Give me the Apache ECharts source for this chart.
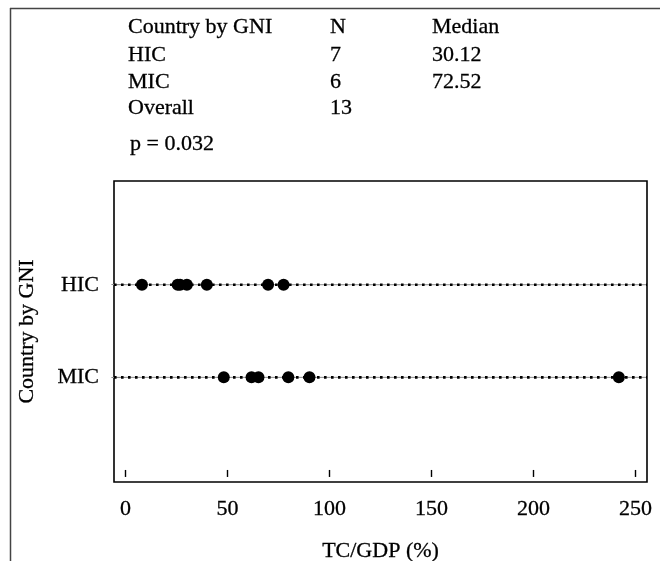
<!DOCTYPE html>
<html><head><meta charset="utf-8">
<script src="https://cdn.jsdelivr.net/npm/echarts@6/dist/echarts.min.js"></script>
<style>html,body{margin:0;padding:0;background:#fff}#c{width:660px;height:561px}</style>
</head><body><div id="c"></div>
<script>
// ---- data ----
const categories = ['MIC', 'HIC']; // plotted at y = 1, 2
const hicValues = [8.1, 25.6, 26.8, 30.12, 39.9, 69.9, 77.5];
const micValues = [48.2, 61.8, 65.2, 79.84, 90.2, 241.8];
const xTicks = [0, 50, 100, 150, 200, 250];
const yTicks = [1, 2];
const tableHeader = ['Country by GNI', 'N', 'Median'];
const tableRows = [['HIC', '7', '30.12'], ['MIC', '6', '72.52'], ['Overall', '13', '']];
const pText = 'p = 0.032';

const XMIN = -5.6, XMAX = 255.6;
const FONT = '"Liberation Serif", "DejaVu Serif", serif';
const FS = 22;

const chart = echarts.init(document.getElementById('c'), null, {renderer: 'canvas'});

const series = [];
const groups = [[2, hicValues], [1, micValues]];
groups.forEach(([y, vals]) => {
  series.push({
    type: 'line', silent: true, symbol: 'none', z: 1,
    data: [[XMIN, y], [XMAX, y]],
    lineStyle: {color: '#8a8a8a', width: 1}
  });
  series.push({
    type: 'line', silent: true, symbol: 'none', z: 2,
    data: [[XMIN, y], [XMAX, y]],
    lineStyle: {color: '#000', width: 2.6, type: [2.6, 4.4], cap: 'butt'}
  });
  series.push({
    type: 'scatter', z: 3, symbol: 'circle', symbolSize: 12,
    data: vals.map(v => [v, y]),
    itemStyle: {color: '#000', opacity: 1}
  });
});

const colX = [128, 330, 432];
const rowY = [27, 55, 82, 108];
const tstyle = (t) => ({text: t, font: FS + 'px ' + FONT, fill: '#000', stroke: '#000', lineWidth: 0.3, textVerticalAlign: 'middle', verticalAlign: 'middle'});
const graphic = [
  {type: 'line', shape: {x1: 10.5, y1: 8, x2: 10.5, y2: 561}, style: {stroke: '#444', lineWidth: 1.5}},
  {type: 'line', shape: {x1: 10, y1: 8.5, x2: 660, y2: 8.5}, style: {stroke: '#444', lineWidth: 1.5}}
];
[tableHeader].concat(tableRows).forEach((row, ri) => {
  row.forEach((t, ci) => {
    if (!t) return;
    graphic.push({type: 'text', x: colX[ci], y: rowY[ri], style: tstyle(t)});
  });
});
graphic.push({type: 'text', x: 130, y: 144, style: tstyle(pText)});

const axisText = {fontFamily: FONT, fontSize: FS, color: '#000', textBorderColor: '#000', textBorderWidth: 0.3};

chart.setOption({
  animation: false,
  backgroundColor: '#fff',
  grid: {left: 114, right: 13, top: 181, bottom: 79, show: true, borderColor: '#000', borderWidth: 1.6,
    backgroundColor: 'transparent', outerBoundsMode: 'none', containLabel: false},
  xAxis: {
    type: 'value', min: XMIN, max: XMAX,
    name: 'TC/GDP (%)', nameLocation: 'middle', nameGap: 58,
    nameTextStyle: axisText,
    axisLine: {show: false},
    splitLine: {show: false},
    axisTick: {show: true, customValues: xTicks, length: 7, lineStyle: {color: '#000', width: 1.4}},
    axisLabel: Object.assign({customValues: xTicks, margin: 16}, axisText)
  },
  yAxis: {
    type: 'value', min: -0.13, max: 3.12,
    name: 'Country by GNI', nameLocation: 'middle', nameGap: 76, nameRotate: 90,
    nameTextStyle: axisText,
    axisLine: {show: false},
    splitLine: {show: false},
    axisTick: {show: true, customValues: yTicks, length: 14, lineStyle: {color: '#8a8a8a', width: 1}},
    axisLabel: Object.assign({customValues: yTicks, margin: 15,
      formatter: v => categories[Math.round(v) - 1]}, axisText)
  },
  graphic: graphic,
  series: series
});
</script></body></html>
